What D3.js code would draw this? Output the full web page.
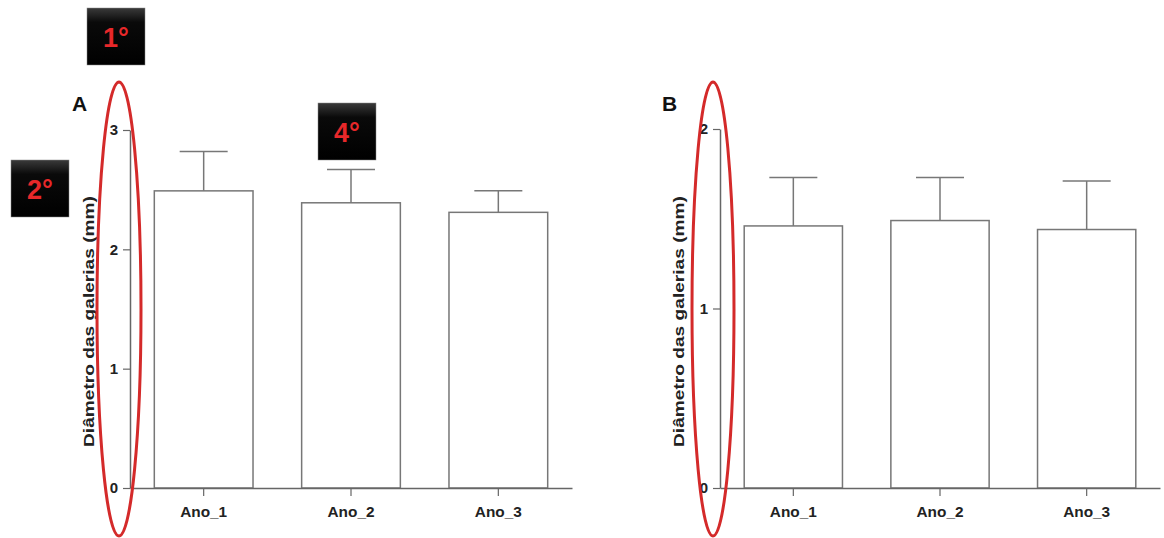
<!DOCTYPE html>
<html><head><meta charset="utf-8">
<script src="https://cdn.jsdelivr.net/npm/d3@7"></script>
<style>
body{margin:0;background:#fff;}
text{font-family:"Liberation Sans",Arial,sans-serif;}
</style></head>
<body><svg id="c" width="1164" height="538"></svg>
<script>
const categories = ["Ano_1","Ano_2","Ano_3"];
const meansA = [2.49, 2.39, 2.31];
const errA   = [0.33, 0.28, 0.18];
const meansB = [1.46, 1.49, 1.44];
const errB   = [0.27, 0.24, 0.27];
const ticksA = [0,1,2,3];
const ticksB = [0,1,2];
const yLabel = "Diâmetro das galerias (mm)";

const svg = d3.select("#c");
const axisColor = "#666", barColor = "#777", textColor = "#222";

function panel(o){
  const g = svg.append("g");
  const x = d3.scaleBand().domain(categories).range([o.x0,o.x1]).paddingInner(0.33).paddingOuter(0.165);
  const y = d3.scaleLinear().domain([0,o.ymax]).range([488,o.ytop]);
  g.selectAll("rect.bar").data(o.means).join("rect")
    .attr("x",(d,i)=>x(categories[i])).attr("width",x.bandwidth())
    .attr("y",d=>y(d)).attr("height",d=>y(0)-y(d))
    .attr("fill","#fff").attr("stroke",barColor).attr("stroke-width",1.5);
  o.means.forEach((m,i)=>{
    const cx = x(categories[i])+x.bandwidth()/2;
    g.append("line").attr("x1",cx).attr("x2",cx).attr("y1",y(m)).attr("y2",y(m+o.err[i]))
      .attr("stroke",barColor).attr("stroke-width",1.5);
    g.append("line").attr("x1",cx-24).attr("x2",cx+24).attr("y1",y(m+o.err[i])).attr("y2",y(m+o.err[i]))
      .attr("stroke",barColor).attr("stroke-width",1.5);
  });
  const ya = g.append("g").attr("transform",`translate(${o.x0},0)`)
    .call(d3.axisLeft(y).tickValues(o.ticks).tickFormat(d3.format("d")).tickSize(7).tickSizeOuter(0).tickPadding(5));
  ya.attr("font-size",15).attr("font-family",null);
  ya.select(".domain").attr("stroke",axisColor).attr("stroke-width",1.5);
  ya.selectAll(".tick line").attr("stroke",axisColor).attr("stroke-width",1.2);
  ya.selectAll(".tick text").attr("fill",textColor).style("font-size","15px").style("font-weight","bold");
  const xa = g.append("g").attr("transform",`translate(0,488)`)
    .call(d3.axisBottom(x).tickSize(8).tickSizeOuter(0).tickPadding(10));
  xa.attr("font-size",16).attr("font-family",null);
  xa.select(".domain").attr("stroke",axisColor).attr("stroke-width",1.5);
  xa.selectAll(".tick line").attr("stroke",axisColor).attr("stroke-width",1.2);
  xa.selectAll(".tick text").attr("fill",textColor).style("font-size","15.5px").style("font-weight","bold")
    .attr("textLength",47).attr("lengthAdjust","spacingAndGlyphs");
  g.append("text").attr("transform",`translate(${o.x0-36},${o.labelCy}) rotate(-90)`)
    .attr("text-anchor","middle").style("font-size","15.5px").style("font-weight","bold")
    .attr("textLength",251).attr("lengthAdjust","spacingAndGlyphs")
    .attr("fill",textColor).text(yLabel);
  g.append("text").attr("x",o.x0-58).attr("y",111).style("font-size","21px").style("font-weight","bold")
    .attr("fill","#111").text(o.letter);
  g.append("ellipse").attr("cx",o.ecx).attr("cy",309).attr("rx",o.erx).attr("ry",227)
    .attr("fill","none").attr("stroke","#d42a2a").attr("stroke-width",3);
}

panel({x0:130,x1:572,ymax:3,ytop:130,means:meansA,err:errA,ticks:ticksA,letter:"A",labelCy:321.5,ecx:119,erx:22});
panel({x0:720,x1:1160,ymax:2,ytop:129,means:meansB,err:errB,ticks:ticksB,letter:"B",labelCy:321.5,ecx:713,erx:21});

const notes = [{t:"1°",x:87,y:8},{t:"2°",x:11,y:160},{t:"4°",x:318,y:103}];
const defs = svg.append("defs");
const grad = defs.append("linearGradient").attr("id","bg").attr("x1",0).attr("x2",0).attr("y1",0).attr("y2",1);
grad.append("stop").attr("offset","0%").attr("stop-color","#3a3a3a");
grad.append("stop").attr("offset","25%").attr("stop-color","#0a0a0a");
grad.append("stop").attr("offset","100%").attr("stop-color","#000");
notes.forEach(n=>{
  svg.append("rect").attr("x",n.x).attr("y",n.y).attr("width",58).attr("height",57)
    .attr("fill","url(#bg)").attr("stroke","#888").attr("stroke-width",0.5);
  svg.append("text").attr("x",n.x+29).attr("y",n.y+39).attr("text-anchor","middle")
    .style("font-size","27px").style("font-weight","bold").attr("fill","#e8282a").text(n.t);
});
</script></body></html>
